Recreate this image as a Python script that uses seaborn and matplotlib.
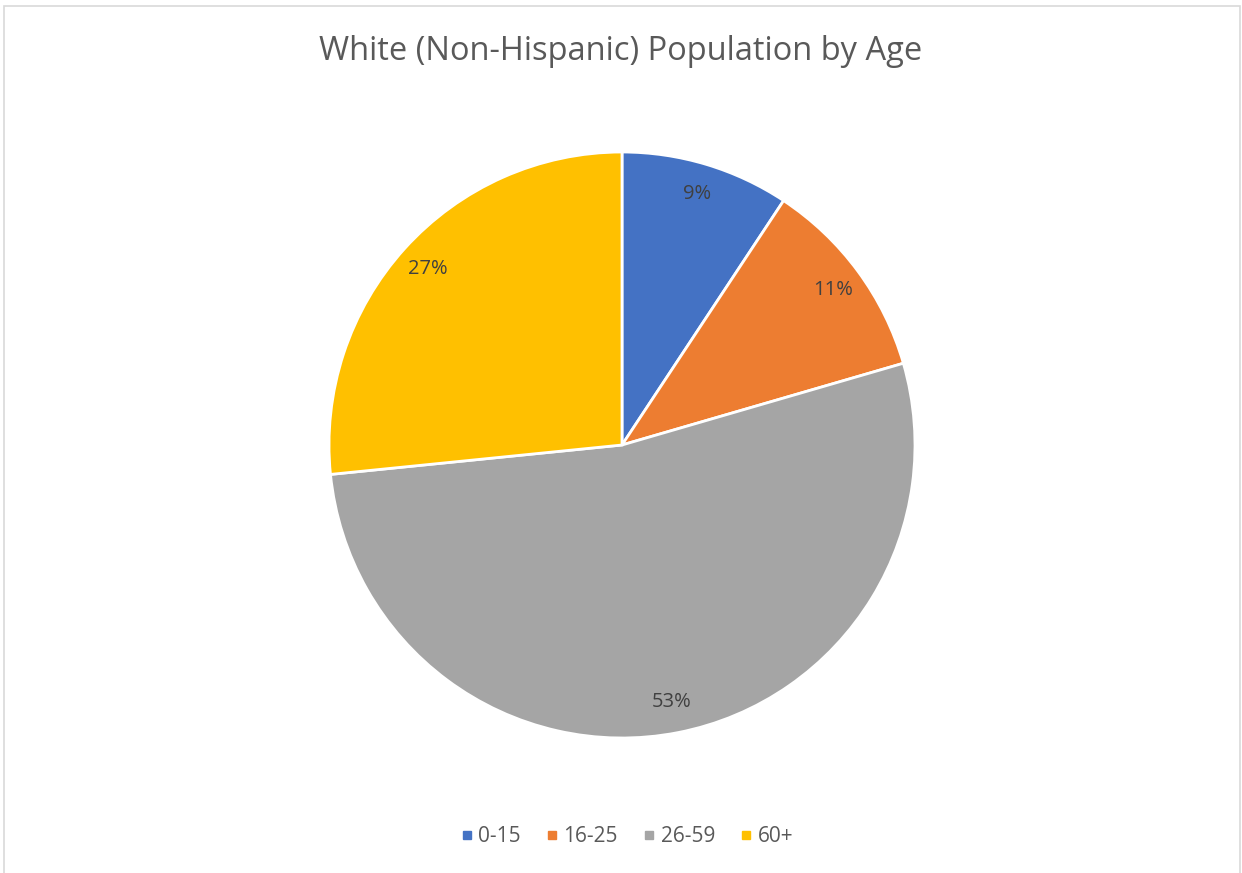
import matplotlib
matplotlib.use("Agg")
import matplotlib.pyplot as plt
from matplotlib.patches import Rectangle
from matplotlib.lines import Line2D
import seaborn as sns

categories = ["0-15", "16-25", "26-59", "60+"]
values = [9.3, 11.2, 52.9, 26.6]
colors = ["#4472C4", "#ED7D31", "#A5A5A5", "#FFC000"]
title = "White (Non-Hispanic) Population by Age"

sns.set_theme(style="white")
plt.rcParams['font.family'] = ['Open Sans', 'DejaVu Sans']

W, H = 1242, 873
fig = plt.figure(figsize=(W / 100, H / 100), dpi=100)
fig.patch.set_facecolor("white")

cx, cy, r = 622, 445, 293
ax = fig.add_axes([(cx - r) / W, (H - cy - r) / H, 2 * r / W, 2 * r / H])
palette = sns.color_palette(colors)
wedges, texts, autotexts = ax.pie(
    values, colors=palette, startangle=90, counterclock=False,
    autopct=lambda p: f"{p:.0f}%", pctdistance=0.895,
    wedgeprops=dict(edgecolor="white", linewidth=2.0),
    textprops=dict(color="#404040", fontsize=14.5),
    radius=1.0)
ax.set_xlim(-1, 1)
ax.set_ylim(-1, 1)
ax.set_aspect("equal")
ax.axis("off")

fig.text(0.5, (H - 51) / H, title, ha="center", va="center",
         fontsize=23.5, color="#595959")

handles = [Line2D([], [], marker="s", linestyle="none", markersize=6,
                  markerfacecolor=c, markeredgecolor=c) for c in colors]
fig.legend(handles, categories, loc="center", bbox_to_anchor=(0.503, (H - 837) / H),
           ncol=4, frameon=False, fontsize=15, handletextpad=0.05,
           columnspacing=1.0, labelcolor="#595959", handlelength=1.0)

fig.add_artist(Rectangle((4 / W, -0.01), (1240 - 4) / W, (H - 6) / H + 0.01,
                         transform=fig.transFigure, fill=False,
                         edgecolor="#D9D9D9", linewidth=1.2))

fig.savefig("out.png", dpi=100)
